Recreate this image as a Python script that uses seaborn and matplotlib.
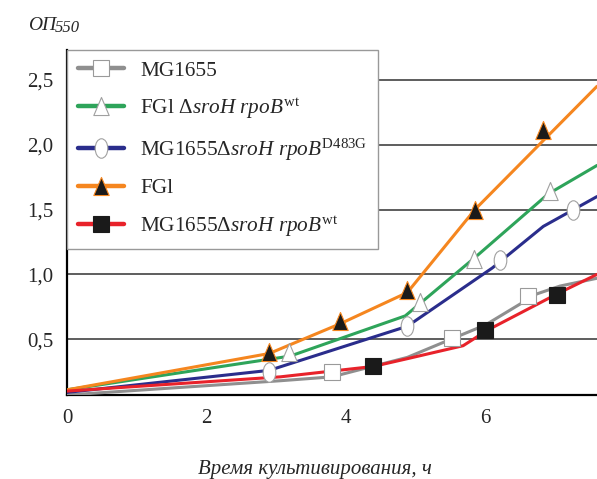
import matplotlib
matplotlib.use("Agg")
import matplotlib.pyplot as plt
import pandas as pd
import seaborn as sns
from matplotlib.lines import Line2D
from matplotlib.path import Path
from matplotlib.transforms import Affine2D

# curve vertices (time, h / OD550)
mg_line_t = [0, 3.06, 3.8, 4.88, 5.55, 6.0, 6.74, 7.07, 7.6]
mg_line_od = [0.07, 0.18, 0.21, 0.36, 0.51, 0.61, 0.85, 0.91, 0.97]
fgs_line_t = [0, 3.2, 4.85, 5.85, 6.9, 7.6]
fgs_line_od = [0.11, 0.37, 0.68, 1.13, 1.62, 1.84]
mgd_line_t = [0, 2.9, 4.88, 6.1, 6.83, 7.6]
mgd_line_od = [0.09, 0.26, 0.6, 1.05, 1.37, 1.60]
fg_line_t = [0, 2.9, 3.92, 4.88, 5.85, 7.6]
fg_line_od = [0.11, 0.39, 0.62, 0.86, 1.5, 2.45]
mgw_line_t = [0, 3.06, 4.39, 4.88, 5.68, 6.03, 7.03, 7.6]
mgw_line_od = [0.10, 0.21, 0.29, 0.35, 0.45, 0.57, 0.85, 1.0]

# measured points (markers)
mg_pt_t = [3.8, 5.52, 6.61]
mg_pt_od = [0.25, 0.51, 0.83]
fgs_pt_t = [3.18, 5.06, 5.83, 6.93]
fgs_pt_od = [0.40, 0.79, 1.12, 1.64]
mgd_pt_t = [2.9, 4.88, 6.21, 7.26]
mgd_pt_od = [0.25, 0.60, 1.11, 1.5]
fg_pt_t = [2.9, 3.92, 4.88, 5.85, 6.83]
fg_pt_od = [0.40, 0.64, 0.88, 1.5, 2.11]
mgw_pt_t = [4.39, 6.0, 7.03]
mgw_pt_od = [0.29, 0.57, 0.84]

labels = [
    "MG1655",
    r"FGl Δ$\mathit{sroH\ rpoB}^{\mathrm{wt}}$",
    r"MG1655Δ$\mathit{sroH\ rpoB}^{\mathrm{D483G}}$",
    "FGl",
    r"MG1655Δ$\mathit{sroH\ rpoB}^{\mathrm{wt}}$",
]
y_ticks = [0.5, 1.0, 1.5, 2.0, 2.5]
y_ticklabels = ["0,5", "1,0", "1,5", "2,0", "2,5"]
x_ticks = [0, 2, 4, 6]

sns.set_theme(style="white")
plt.rcParams["font.family"] = ["Liberation Serif", "DejaVu Serif"]
plt.rcParams["mathtext.fontset"] = "custom"
plt.rcParams["mathtext.rm"] = "Liberation Serif"
plt.rcParams["mathtext.it"] = "Liberation Serif:italic"

ellipse = Path.unit_circle().transformed(Affine2D().scale(0.65, 1.0))
tri = Path([(0, 1), (-0.85, -1), (0.85, -1), (0, 1)],
           [Path.MOVETO, Path.LINETO, Path.LINETO, Path.CLOSEPOLY])

series = [
    (mg_line_t, mg_line_od, mg_pt_t, mg_pt_od, "#8f8f8f", "s", "white", "#9a9a9a", 11),
    (fgs_line_t, fgs_line_od, fgs_pt_t, fgs_pt_od, "#2ea45a", tri, "white", "#a0a0a0", 13),
    (mgd_line_t, mgd_line_od, mgd_pt_t, mgd_pt_od, "#2a2d8c", ellipse, "white", "#a0a0a0", 14),
    (fg_line_t, fg_line_od, fg_pt_t, fg_pt_od, "#f5861f", tri, "#1a1a1a", "#f5861f", 13),
    (mgw_line_t, mgw_line_od, mgw_pt_t, mgw_pt_od, "#e8222a", "s", "#1a1a1a", "#1a1a1a", 11),
]

fig = plt.figure(figsize=(5.97, 4.79), dpi=100)
ax = fig.add_axes([67 / 597, 1 - 395 / 479, 530 / 597, 345 / 479])

for yt in y_ticks:
    ax.axhline(yt, color="#505050", lw=1.3, zorder=1)

handles = []
for lt, lo, pt, po, col, mk, fc, ec, ms in series:
    df = pd.DataFrame({"t": lt, "od": lo})
    sns.lineplot(data=df, x="t", y="od", color=col, lw=2.2, ax=ax, zorder=3)
    ax.plot(pt, po, ls="none", marker=mk, ms=ms, mfc=fc, mec=ec, mew=0.8, zorder=4)
    handles.append(Line2D([], [], color=col, lw=3.2, marker=mk, ms=ms,
                          mfc=fc, mec=ec, mew=0.8))

ax.set_xlim(0, 7.6)
ax.set_ylim(0.07, 2.73)
ax.set_xticks(x_ticks)
ax.set_xticklabels([str(v) for v in x_ticks])
ax.set_yticks(y_ticks)
ax.set_yticklabels(y_ticklabels)
ax.tick_params(axis="y", direction="out", length=4, width=1, labelsize=15, pad=6, color="black")
ax.tick_params(axis="x", direction="in", length=3, width=1, labelsize=15, pad=10, color="black")
ax.set_xlabel("")
ax.set_ylabel("")
for side in ["top", "right"]:
    ax.spines[side].set_visible(False)
for side in ["left", "bottom"]:
    ax.spines[side].set_color("black")
    ax.spines[side].set_linewidth(1.6)

leg = ax.legend(handles, labels, loc="upper left", bbox_to_anchor=(0, 1),
                borderaxespad=0, fontsize=15.3, frameon=True, fancybox=False,
                handlelength=2.2, handletextpad=0.75, labelspacing=0.74,
                borderpad=0.5)
leg.get_frame().set_edgecolor("#999999")
leg.get_frame().set_linewidth(1.0)
leg.get_frame().set_alpha(1)
leg.set_zorder(10)

fig.text(28 / 597, 1 - 30 / 479, "ОП", fontsize=14, style="italic", va="baseline")
fig.text(55 / 597, 1 - 32 / 479, "550", fontsize=12, style="italic", va="baseline")
fig.text(315 / 597, 1 - 474 / 479, "Время культивирования, ч", fontsize=15,
         style="italic", ha="center", va="baseline")

fig.savefig("out.png", dpi=100)
